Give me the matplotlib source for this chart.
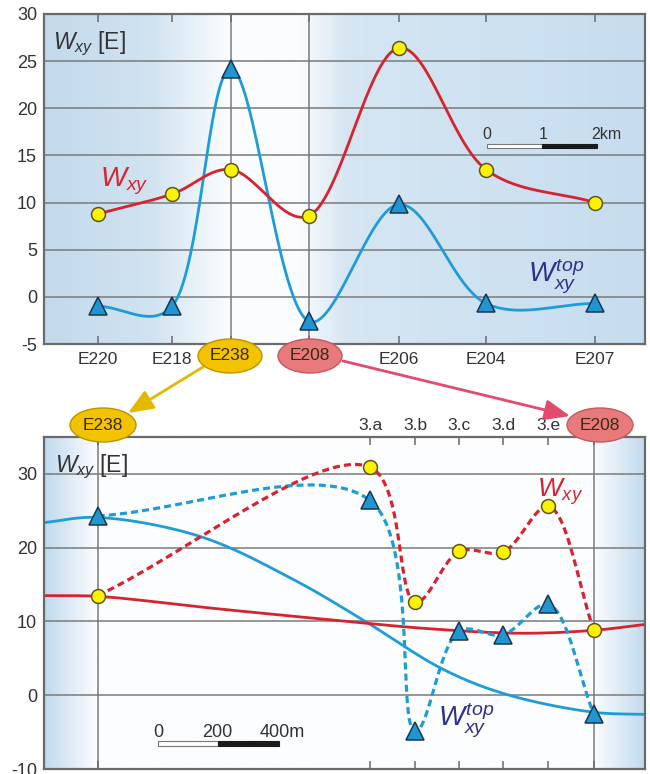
import numpy as np
import matplotlib
matplotlib.use('Agg')
import matplotlib.pyplot as plt
from matplotlib.patches import Ellipse, Rectangle, FancyArrowPatch

plt.rcParams['font.family'] = ['Liberation Sans', 'DejaVu Sans']
plt.rcParams['mathtext.fontset'] = 'custom'
plt.rcParams['mathtext.rm'] = 'Liberation Sans'
plt.rcParams['mathtext.it'] = 'Liberation Sans:italic'

# ---------------- data ----------------
stations = ['E220', 'E218', 'E238', 'E208', 'E206', 'E204', 'E207']
station_km = [0.0, 1.345, 2.418, 3.836, 5.473, 7.055, 9.036]
wxy_profile = [8.8, 10.9, 13.5, 8.6, 26.4, 13.5, 10.0]
wtop_profile = [-1.0, -1.0, 24.2, -2.6, 9.8, -0.7, -0.7]
top_yticks = [-5, 0, 5, 10, 15, 20, 25, 30]

detail_labels = ['E238', '3.a', '3.b', '3.c', '3.d', '3.e', 'E208']
detail_m = [0, 900, 1050, 1195, 1340, 1490, 1640]
wxy_detail = [13.5, 30.9, 12.6, 19.5, 19.4, 25.6, 8.8]
wtop_detail = [24.3, 26.4, -4.9, 8.7, 8.2, 12.3, -2.6]
bottom_yticks = [-10, 0, 10, 20, 30]

regional_wxy_m = [-178, 0, 400, 800, 1100, 1400, 1640, 1810]
regional_wxy = [13.5, 13.4, 11.7, 10.1, 9.0, 8.4, 8.8, 9.6]
regional_wtop_m = [-178, 0, 340, 646, 877, 1142, 1352, 1638, 1810]
regional_wtop = [23.4, 24.1, 21.5, 15.7, 10.2, 3.5, 0.1, -2.3, -2.6]

# ---------------- style ----------------
RED = '#d6232e'
BLUE = '#1d9cd8'
NAVY = '#2e3090'
TXT = '#333333'
GRID = '#7a7a7a'
SPINE = '#6a6a6a'
W, H = 650, 774


def smooth(xs, ys, sx, sy, alpha=0.5, n=60):
    """Catmull-Rom curve through the points (computed in pixel-like space)"""
    P = np.column_stack([np.asarray(xs, float) * sx, np.asarray(ys, float) * sy])
    P = np.vstack([2 * P[0] - P[1], P, 2 * P[-1] - P[-2]])
    out = []
    for i in range(1, len(P) - 2):
        p0, p1, p2, p3 = P[i - 1], P[i], P[i + 1], P[i + 2]
        t0 = 0.0
        t1 = t0 + np.linalg.norm(p1 - p0) ** alpha
        t2 = t1 + np.linalg.norm(p2 - p1) ** alpha
        t3 = t2 + np.linalg.norm(p3 - p2) ** alpha
        t = np.linspace(t1, t2, n)[:, None]
        A1 = (t1 - t) / (t1 - t0) * p0 + (t - t0) / (t1 - t0) * p1
        A2 = (t2 - t) / (t2 - t1) * p1 + (t - t1) / (t2 - t1) * p2
        A3 = (t3 - t) / (t3 - t2) * p2 + (t - t2) / (t3 - t2) * p3
        B1 = (t2 - t) / (t2 - t0) * A1 + (t - t0) / (t2 - t0) * A2
        B2 = (t3 - t) / (t3 - t1) * A2 + (t - t1) / (t3 - t1) * A3
        C = (t2 - t) / (t2 - t1) * B1 + (t - t1) / (t2 - t1) * B2
        out.append(C if i == 1 else C[1:])
    C = np.vstack(out)
    return C[:, 0] / sx, C[:, 1] / sy


def background(ax, stops_px, stops_rgb):
    xl, yl = ax.get_xlim(), ax.get_ylim()
    pxs = np.arange(44, 646)
    rgb = np.array(stops_rgb, float) / 255.0
    cols = np.stack([np.interp(pxs, stops_px, rgb[:, k]) for k in range(3)], axis=-1)
    img = np.repeat(cols[None, :, :], 4, axis=0)
    ax.imshow(img, extent=[xl[0], xl[1], yl[0], yl[1]], aspect='auto', zorder=0,
              interpolation='bilinear')
    ax.set_xlim(xl)
    ax.set_ylim(yl)


def style_axes(ax, yticks):
    for s in ax.spines.values():
        s.set_color(SPINE)
        s.set_linewidth(1.6)
        s.set_zorder(6)
    ax.set_yticks(yticks)
    ax.set_yticklabels([str(v) for v in yticks])
    ax.tick_params(axis='y', length=0, pad=5, labelsize=13, labelcolor=TXT)
    for v in yticks:
        ax.axhline(v, color=GRID, lw=1.1, zorder=1)


def mk_o(ax, x, y):
    ax.plot(x, y, 'o', ms=10, mfc='#fff200', mec='#5a5720', mew=1.1, zorder=8, ls='none')


def mk_t(ax, x, y):
    ax.plot(x, y, '^', ms=12.5, mfc='#1f95d2', mec='#1a3550', mew=1.1, zorder=8, ls='none')


fig = plt.figure(figsize=(W / 100, H / 100), dpi=100)
fig.patch.set_facecolor('white')

# ================= top panel =================
ax1 = fig.add_axes([44 / W, 1 - 344 / H, 601 / W, 330 / H])
ax1.set_xlim(-0.982, 9.945)
ax1.set_ylim(-5, 30)
background(ax1, [44, 150, 228, 300, 345, 645],
           [(195, 217, 235), (208, 227, 241), (250, 252, 254), (250, 252, 254),
            (214, 230, 243), (198, 221, 239)])
style_axes(ax1, top_yticks)
ax1.set_xticks(station_km)
ax1.set_xticklabels(['' if s in ('E238', 'E208') else s for s in stations])
ax1.tick_params(axis='x', direction='in', length=6, width=1.1, color=SPINE, top=True,
                bottom=True, pad=6, labelsize=12.5, labelcolor=TXT)
for i in (2, 3):
    ax1.axvline(station_km[i], color=GRID, lw=1.1, zorder=1)

sx1, sy1 = 55.0, 9.43
x, y = smooth(station_km, wtop_profile, sx1, sy1, alpha=0.3)
ax1.plot(x, y, color=BLUE, lw=2.0, zorder=3)
x, y = smooth(station_km, wxy_profile, sx1, sy1, alpha=0.3)
ax1.plot(x, y, color=RED, lw=2.0, zorder=4)
mk_t(ax1, station_km, wtop_profile)
mk_o(ax1, station_km, wxy_profile)

ax1.text(0.015, 0.894, r'$W_{xy}$ [E]', transform=ax1.transAxes, fontsize=16.5, color=TXT,
         va='baseline', ha='left')
ax1.text(0.093, 0.476, r'$W_{xy}$', transform=ax1.transAxes, fontsize=20, color=RED,
         va='baseline', ha='left')
ax1.text(0.805, 0.185, r'$W_{xy}^{top}$', transform=ax1.transAxes, fontsize=20, color=NAVY,
         va='baseline', ha='left')

# scale bar (km)
ax1.add_patch(Rectangle((7.078, 15.75), 1.0, 0.48, facecolor='white', edgecolor='#777777',
                        lw=0.8, zorder=7))
ax1.add_patch(Rectangle((8.078, 15.75), 1.0, 0.48, facecolor='#1a1a1a', edgecolor='#1a1a1a',
                        lw=0.8, zorder=7))
ax1.text(7.078, 16.75, '0', ha='center', va='baseline', fontsize=11.5, color=TXT, zorder=7)
ax1.text(8.09, 16.75, '1', ha='center', va='baseline', fontsize=11.5, color=TXT, zorder=7)
ax1.text(8.976, 16.75, '2km', ha='left', va='baseline', fontsize=11.5, color=TXT, zorder=7)

# ================= bottom panel =================
ax2 = fig.add_axes([44 / W, 1 - 769 / H, 601 / W, 332 / H])
ax2.set_xlim(-177.5, 1809)
ax2.set_ylim(-10, 35)
background(ax2, [44, 97, 593, 645],
           [(192, 218, 237), (252, 253, 255), (252, 253, 255), (194, 218, 237)])
style_axes(ax2, bottom_yticks)
ax2.set_xticks(detail_m)
ax2.set_xticklabels(['' if s in ('E238', 'E208') else s for s in detail_labels])
ax2.tick_params(axis='x', direction='in', length=6, width=1.1, color=SPINE, top=True,
                bottom=True, labeltop=True, labelbottom=False, pad=3, labelsize=12.5,
                labelcolor=TXT)
for i in (0, len(detail_m) - 1):
    ax2.axvline(detail_m[i], color=GRID, lw=1.1, zorder=1)

sx2, sy2 = 0.3025, 7.38
x, y = smooth(regional_wtop_m, regional_wtop, sx2, sy2)
ax2.plot(x, y, color=BLUE, lw=2.0, zorder=3)
x, y = smooth(regional_wxy_m, regional_wxy, sx2, sy2)
ax2.plot(x, y, color=RED, lw=2.0, zorder=3)
x, y = smooth(detail_m, wtop_detail, sx2, sy2)
ax2.plot(x, y, color=BLUE, lw=2.3, ls=(0, (2.2, 1.3)), zorder=4)
x, y = smooth(detail_m, wxy_detail, sx2, sy2)
ax2.plot(x, y, color=RED, lw=2.3, ls=(0, (2.2, 1.3)), zorder=5)
mk_t(ax2, detail_m, wtop_detail)
mk_o(ax2, detail_m, wxy_detail)

ax2.text(0.018, 0.895, r'$W_{xy}$ [E]', transform=ax2.transAxes, fontsize=16.5, color=TXT,
         va='baseline', ha='left')
ax2.text(0.820, 0.819, r'$W_{xy}$', transform=ax2.transAxes, fontsize=19, color=RED,
         va='baseline', ha='left')
ax2.text(0.656, 0.127, r'$W_{xy}^{top}$', transform=ax2.transAxes, fontsize=20, color=NAVY,
         va='baseline', ha='left')

# scale bar (m)
ax2.add_patch(Rectangle((199, -6.85), 200, 0.6, facecolor='white', edgecolor='#777777',
                        lw=0.8, zorder=7))
ax2.add_patch(Rectangle((399, -6.85), 200, 0.6, facecolor='#1a1a1a', edgecolor='#1a1a1a',
                        lw=0.8, zorder=7))
ax2.text(199, -5.6, '0', ha='center', va='baseline', fontsize=13, color=TXT, zorder=7)
ax2.text(394, -5.6, '200', ha='center', va='baseline', fontsize=13, color=TXT, zorder=7)
ax2.text(536, -5.6, '400m', ha='left', va='baseline', fontsize=13, color=TXT, zorder=7)


# ================= ellipses & arrows (figure level) =================
def fxy(px, py):
    return (px / W, 1 - py / H)


def ell(cx, cy, w, h, fc, ec, label):
    e = Ellipse(fxy(cx, cy), w / W, h / H, transform=fig.transFigure, facecolor=fc,
                edgecolor=ec, lw=1.0, zorder=20)
    fig.patches.append(e)
    fig.text(cx / W, 1 - cy / H, label, ha='center', va='center', fontsize=12.5,
             color='#3a2a10', zorder=21)


GOLD_FC, GOLD_EC = '#f3c300', '#b99400'
PINK_FC, PINK_EC = '#e87a7c', '#c25a5d'
ell(230, 356, 64, 34, GOLD_FC, GOLD_EC, stations[2])
ell(310, 356, 64, 34, PINK_FC, PINK_EC, stations[3])
ell(103, 425, 66, 34, GOLD_FC, GOLD_EC, detail_labels[0])
ell(600, 425, 66, 34, PINK_FC, PINK_EC, detail_labels[-1])

for (a, b, c) in [((203, 367), (128, 413), '#e5b800'), ((343, 361), (570, 416), '#e44a6c')]:
    arr = FancyArrowPatch(fxy(*a), fxy(*b), transform=fig.transFigure,
                          arrowstyle='-|>,head_length=1.1,head_width=0.45',
                          mutation_scale=14, color=c, lw=2.0, zorder=19,
                          shrinkA=0, shrinkB=0)
    fig.patches.append(arr)

fig.savefig('out.png', dpi=100)
